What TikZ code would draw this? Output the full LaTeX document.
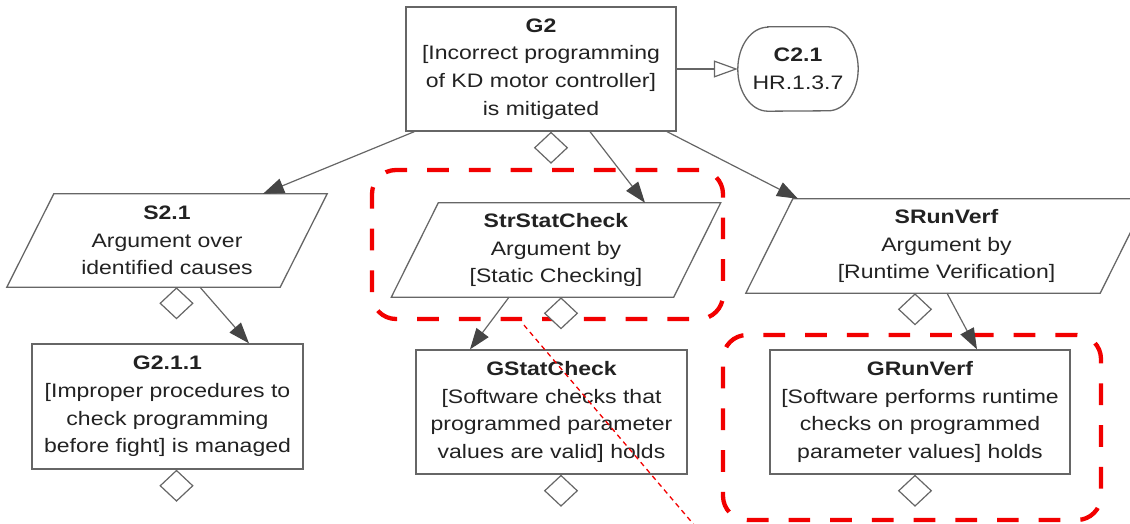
\documentclass[tikz,border=0pt]{standalone}
\usepackage{fontspec}
\newfontfamily\gsnfont{Liberation Sans}[FakeStretch=1.18]
\usetikzlibrary{arrows.meta,shapes.geometric,calc}
\definecolor{gsnline}{HTML}{666666}
\definecolor{gsnhead}{HTML}{454545}
\definecolor{gsntext}{HTML}{222222}
\definecolor{hlred}{HTML}{F20000}
\tikzset{
  gsnfontsize/.style={font=\gsnfont\fontsize{19.5}{27.7}\selectfont, text=gsntext},
  goal/.style={gsnfontsize, rectangle, draw=gsnline, line width=1.3pt, fill=white,
    align=center, inner sep=0pt},
  strategy/.style={gsnfontsize, rectangle, draw=none, align=center, inner sep=0pt},
  context/.style={gsnfontsize, rectangle, draw=none, align=center, inner sep=0pt,
    minimum width=120pt, minimum height=84pt},
  outline/.style={draw=gsnline, line width=1.3pt},
  undev/.style={diamond, draw=gsnline, line width=1.2pt, fill=white, inner sep=0pt,
    minimum width=33pt, minimum height=31pt, anchor=north},
  solved/.style={draw=gsnline, line width=1.2pt,
    -{Triangle[length=21pt,width=15pt,fill=gsnhead,color=gsnhead]}},
  incontext/.style={draw=gsnline, line width=1.2pt,
    -{Triangle[open,length=24pt,width=17pt,fill=white,color=gsnline]}},
  hlbox/.style={draw=hlred, line width=4.3pt, rounded corners=24pt,
    dash pattern=on 21.7pt off 20pt, inner sep=0pt},
  hllink/.style={draw=hlred, line width=1.3pt, dash pattern=on 5pt off 4pt},
}
\begin{document}
\begin{tikzpicture}[x=1pt, y=-1pt]
\useasboundingbox (0,0) rectangle (1130,524);
\clip (0,0) rectangle (1130,524);

% highlight frames
\node[hlbox, minimum width=351pt, minimum height=149pt] (hl1) at (547.5,244.5) {};
\node[hlbox, minimum width=378pt, minimum height=185pt] (hl2) at (912,427.5) {};

% top goal and its context
\node[goal, minimum width=270pt, minimum height=124pt] (g2) at (541,69)
  {\textbf{G2}\\{[}Incorrect programming\\of KD motor controller]\\is mitigated};
\node[context] (c21) at (798,69) {\textbf{C2.1}\\HR.1.3.7};
\draw[outline] ([xshift=30pt]c21.north west) -- ([xshift=-30pt]c21.north east)
  arc[start angle=90, end angle=-90, x radius=30pt, y radius=42pt]
  -- ([xshift=30pt]c21.south west)
  arc[start angle=270, end angle=90, x radius=30pt, y radius=42pt] -- cycle;

% strategies (text boxes, outlines drawn below)
\node[strategy, minimum width=273pt, minimum height=93pt] (s21) at (167,240.5)
  {\textbf{S2.1}\\Argument over\\identified causes};
\node[strategy, minimum width=282pt, minimum height=94pt] (ssc) at (556,250)
  {\textbf{StrStatCheck}\\Argument by\\{[}Static Checking]};
\node[strategy, minimum width=354pt, minimum height=94pt] (srv) at (946.5,246)
  {\textbf{SRunVerf}\\Argument by\\{[}Runtime Verification]};
\foreach \n in {s21,ssc,srv}
  \draw[outline]
    ([xshift=23.5pt]\n.north west) -- ([xshift=23.5pt]\n.north east)
    -- ([xshift=-23.5pt]\n.south east) -- ([xshift=-23.5pt]\n.south west) -- cycle;

% sub-goals
\node[goal, minimum width=271pt, minimum height=125pt] (g211) at (167.5,406.5)
  {\textbf{G2.1.1}\\{[}Improper procedures to\\check programming\\before fight] is managed};
\node[goal, minimum width=271pt, minimum height=124pt] (gsc) at (551.5,412)
  {\textbf{GStatCheck}\\{[}Software checks that\\programmed parameter\\values are valid] holds};
\node[goal, minimum width=300pt, minimum height=124pt] (grv) at (920,412)
  {\textbf{GRunVerf}\\{[}Software performs runtime\\checks on programmed\\parameter values] holds};

% undeveloped markers
\node[undev] (u1) at ([xshift=10pt]g2.south) {};
\node[undev] (u2) at ([xshift=9.5pt]s21.south) {};
\node[undev] (u3) at ([xshift=9pt]g211.south) {};
\node[undev] (u4) at ([xshift=5pt]ssc.south) {};
\node[undev] (u5) at ([xshift=9.5pt]gsc.south) {};
\node[undev] (u6) at ([xshift=-31.5pt]srv.south) {};
\node[undev] (u7) at ([xshift=-5pt]grv.south) {};

% connectors
\draw[incontext] (g2.east) -- (c21.west);
\draw[solved] ([xshift=9pt]g2.south west) -- ([xshift=96pt]s21.north);
\draw[solved] ([xshift=49pt]g2.south) -- ([xshift=89pt]ssc.north);
\draw[solved] ([xshift=126pt]g2.south) -- ([xshift=-148.5pt]srv.north);
\draw[solved] ([xshift=33pt]s21.south) -- ([xshift=81.5pt]g211.north);
\draw[solved] ([xshift=-47pt]ssc.south) -- ([xshift=-81.5pt]gsc.north);
\draw[solved] ([xshift=0.5pt]srv.south) -- ([xshift=57pt]grv.north);

% thin links leaving the highlight frames
\coordinate (e1) at (695,526);
\coordinate (e2) at (1101,526);
\draw[hllink] ([xshift=-23.5pt,yshift=-4pt]hl1.south) -- (e1);
\draw[hllink] ([xshift=-5pt,yshift=-4pt]hl2.south east) -- (e2);
\end{tikzpicture}
\end{document}
